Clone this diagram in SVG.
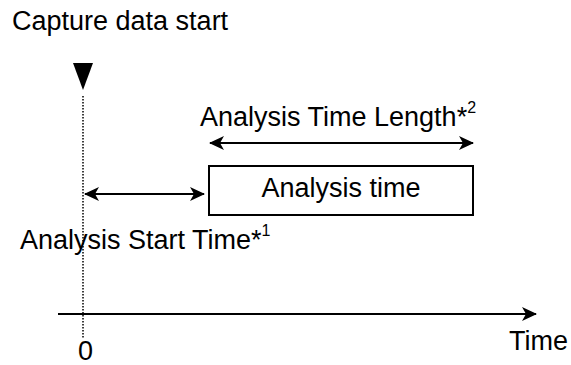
<svg xmlns="http://www.w3.org/2000/svg" width="571" height="365" viewBox="0 0 571 365">
<style>
text{font-family:"Liberation Sans",Arial,sans-serif;font-size:27px;fill:#000}
.ln{stroke:#000;stroke-width:2;fill:none}
.sup{font-size:16px}
</style>
<defs>
<marker id="ah" markerUnits="userSpaceOnUse" markerWidth="16" markerHeight="14" viewBox="0 0 16 14" refX="14" refY="7" orient="auto-start-reverse">
<path d="M0,0 L15,7 L0,14 L4,7 Z" fill="#000"/>
</marker>
</defs>
<rect width="571" height="365" fill="#fff"/>
<g id="title"><text x="12" y="30">Capture data start</text></g>
<g id="trigger"><polygon points="73,63 93,63 83,90" fill="#000"/></g>
<g id="box"><rect x="209" y="166" width="264" height="49" fill="#fff" stroke="#000" stroke-width="2"/><text x="341" y="197" text-anchor="middle">Analysis time</text></g>
<g id="labels">
<text x="200" y="126">Analysis Time Length*<tspan class="sup" dy="-13">2</tspan></text>
<text x="20" y="249">Analysis Start Time*<tspan class="sup" dy="-13">1</tspan></text>
<text x="509" y="350">Time</text>
<text x="78" y="360">0</text>
</g>
<g id="connectors">
<line x1="83" y1="96" x2="83" y2="338" stroke="#000" stroke-width="1.5" stroke-dasharray="1.5 1.5"/>
<line class="ln" x1="85" y1="194" x2="204" y2="194" marker-start="url(#ah)" marker-end="url(#ah)"/>
<line class="ln" x1="210" y1="143" x2="473" y2="143" marker-start="url(#ah)" marker-end="url(#ah)"/>
<line class="ln" x1="58" y1="314" x2="536" y2="314" marker-end="url(#ah)"/>
</g>
</svg>
